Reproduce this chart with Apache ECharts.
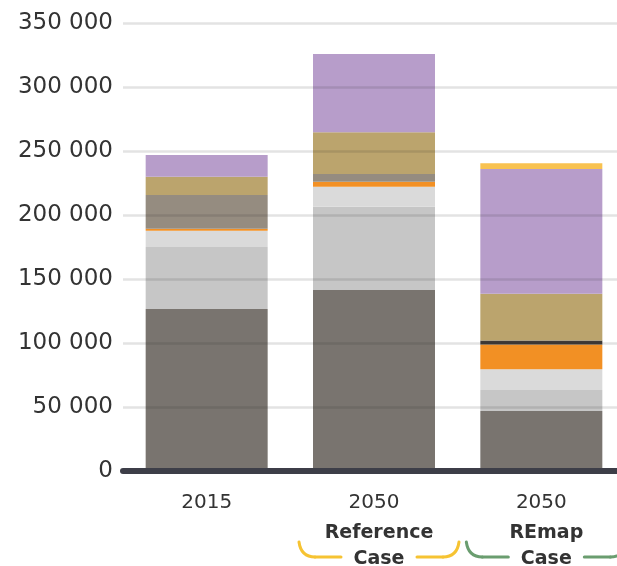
<!DOCTYPE html>
<html>
<head>
<meta charset="utf-8">
<script src="https://cdn.jsdelivr.net/npm/echarts@6/dist/echarts.min.js"></script>
<style>
  html, body { margin: 0; padding: 0; background: #ffffff; }
  #chart { width: 617px; height: 566px; }
</style>
</head>
<body>
<div id="chart"></div>
<script>
// Category keys: year on the first line, scenario name on the following lines
const categories = ['2015', '2050\nReference\nCase', '2050\nREmap\nCase'];

// Stacked segments, bottom to top
const oil            = [126600, 141400, 46900];
const naturalGas     = [48400, 65100, 16400];
const coal           = [12700, 15600, 16100];
const electricity    = [1500, 3900, 19400];
const districtHeat   = [0, 0, 3100];
const tradBiomass    = [26400, 6000, 0];
const modernBiomass  = [14300, 32600, 36500];
const renewables     = [17000, 61200, 97600];
const hydrogen       = [0, 0, 4500];

// Y axis ticks
const yTicks = { min: 0, max: 350000, interval: 50000 };

const layers = [
  { name: 'Oil', data: oil, color: '#79746f' },
  { name: 'Natural gas', data: naturalGas, color: '#c6c6c6' },
  { name: 'Coal', data: coal, color: '#dadada' },
  { name: 'Electricity', data: electricity, color: '#f29024' },
  { name: 'District heat', data: districtHeat, color: '#3f3a37' },
  { name: 'Traditional biomass', data: tradBiomass, color: '#958c80' },
  { name: 'Modern biomass', data: modernBiomass, color: '#bba46d' },
  { name: 'Other renewables', data: renewables, color: '#b79dca' },
  { name: 'Hydrogen', data: hydrogen, color: '#f8c251' }
];

const FONT = 'DejaVu Sans';
const chart = echarts.init(document.getElementById('chart'), null, { renderer: 'canvas' });

chart.setOption({
  animation: false,
  backgroundColor: '#ffffff',
  // The plot area runs a little past the right edge of the canvas
  grid: { left: 123, right: -8, top: 23, bottom: 95, containLabel: false, outerBoundsMode: 'none' },
  xAxis: {
    type: 'category',
    data: categories,
    z: 4,
    axisLine: { show: true, lineStyle: { color: '#3d3e48', width: 6 } },
    axisTick: { show: false },
    axisLabel: {
      interval: 0,
      margin: 15,
      formatter: function (value) {
        const parts = value.split('\n');
        return ['{y|' + parts[0] + '}']
          .concat(parts.slice(1).map(function (s) { return '{b|' + s + '}'; }))
          .join('\n');
      },
      rich: {
        y: { fontFamily: FONT, fontSize: 20, color: '#333333', lineHeight: 34 },
        b: { fontFamily: FONT, fontSize: 19, fontWeight: 'bold', color: '#333333', lineHeight: 26, padding: [0, 0, 0, 10] }
      }
    }
  },
  yAxis: {
    type: 'value',
    min: yTicks.min,
    max: yTicks.max,
    interval: yTicks.interval,
    z: 3,
    axisLine: { show: false },
    axisTick: { show: false },
    splitLine: { show: true, lineStyle: { color: 'rgba(40,40,40,0.13)', width: 2.5 } },
    axisLabel: {
      margin: 10,
      fontFamily: FONT,
      fontSize: 23,
      color: '#333333',
      formatter: function (v) {
        return String(v).replace(/\B(?=(\d{3})+(?!\d))/g, ' ');
      }
    }
  },
  series: layers.map(function (l) {
    return {
      type: 'bar',
      name: l.name,
      stack: 'total',
      barWidth: 122,
      data: l.data,
      itemStyle: { color: l.color },
      emphasis: { disabled: true }
    };
  })
});

// Scenario brackets drawn under the two 2050 labels
function bracket(cx, color) {
  const top = 542, bottom = 557;
  const outer = 80, corner = 64, inner = 38;
  const style = { stroke: color, lineWidth: 3, fill: null, lineCap: 'round' };
  return [
    { type: 'bezierCurve', z: 10, style: style,
      shape: { x1: cx - outer, y1: top, cpx1: cx - outer + 2, cpy1: bottom, x2: cx - corner, y2: bottom } },
    { type: 'line', z: 10, style: style,
      shape: { x1: cx - corner, y1: bottom, x2: cx - inner, y2: bottom } },
    { type: 'line', z: 10, style: style,
      shape: { x1: cx + inner, y1: bottom, x2: cx + corner, y2: bottom } },
    { type: 'bezierCurve', z: 10, style: style,
      shape: { x1: cx + corner, y1: bottom, cpx1: cx + outer - 2, cpy1: bottom, x2: cx + outer, y2: top } }
  ];
}

const refX = chart.convertToPixel({ xAxisIndex: 0 }, 1) + 5;
const remapX = chart.convertToPixel({ xAxisIndex: 0 }, 2) + 5;
chart.setOption({
  graphic: bracket(refX, '#f6c332').concat(bracket(remapX, '#6a9d6f'))
});
</script>
</body>
</html>
